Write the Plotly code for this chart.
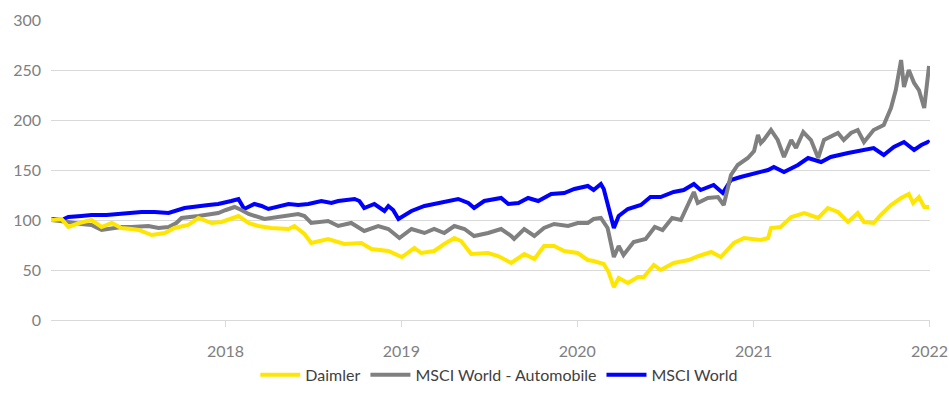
import plotly.graph_objects as go

# ---- Data ----
daimler_dates = [
    "2017-01-04", "2017-01-15", "2017-01-26", "2017-02-09", "2017-03-04", "2017-03-29",
    "2017-04-19", "2017-05-10", "2017-05-30", "2017-06-20", "2017-07-05", "2017-08-01",
    "2017-08-28", "2017-09-17", "2017-10-16", "2017-11-06", "2017-12-03", "2017-12-24",
    "2018-01-07", "2018-01-28", "2018-02-18", "2018-03-10", "2018-04-06", "2018-05-12",
    "2018-05-24", "2018-06-14", "2018-06-28", "2018-08-02", "2018-09-05", "2018-10-10",
    "2018-10-31", "2018-12-05", "2019-01-02", "2019-01-28", "2019-02-11", "2019-03-10",
    "2019-03-31", "2019-04-21", "2019-05-05", "2019-05-26", "2019-06-30", "2019-07-21",
    "2019-08-17", "2019-09-13", "2019-10-04", "2019-10-24", "2019-11-14", "2019-12-05",
    "2020-01-02", "2020-01-23", "2020-02-04", "2020-02-25", "2020-03-06", "2020-03-17",
    "2020-03-27", "2020-04-15", "2020-05-06", "2020-05-18", "2020-06-08", "2020-06-22",
    "2020-07-19", "2020-08-19", "2020-09-09", "2020-10-05", "2020-10-25", "2020-11-21",
    "2020-12-12", "2021-01-02", "2021-01-16", "2021-01-31", "2021-02-06", "2021-02-26",
    "2021-03-20", "2021-04-16", "2021-05-15", "2021-06-04", "2021-06-25", "2021-07-16",
    "2021-08-05", "2021-08-18", "2021-09-07", "2021-09-22", "2021-10-13", "2021-11-03",
    "2021-11-19", "2021-11-28", "2021-12-10", "2021-12-21", "2021-12-31",
]
daimler_values = [
    100, 101, 101, 93, 97, 100,
    93, 97, 92, 91, 90, 85,
    87, 92, 95, 102, 97, 98,
    100, 104, 97, 94, 92, 91,
    94, 86, 77, 81, 76, 77,
    71, 69, 63, 72, 67, 69,
    76, 82, 79, 66, 67, 64,
    57, 66, 61, 74, 74, 69,
    67, 60, 59, 56, 48, 33,
    42, 37, 43, 43, 55, 50,
    57, 60, 64, 68, 63, 77,
    82, 81, 80, 82, 92, 93,
    103, 107, 102, 112, 108, 98,
    107, 98, 97, 105, 115, 122,
    126, 117, 123, 113, 113,
]

auto_dates = [
    "2017-01-04", "2017-01-26", "2017-02-09", "2017-03-08", "2017-03-29", "2017-04-19",
    "2017-05-10", "2017-05-30", "2017-06-20", "2017-07-25", "2017-08-15", "2017-09-05",
    "2017-09-21", "2017-10-02", "2017-11-06", "2017-12-03", "2017-12-17", "2018-01-02",
    "2018-01-13", "2018-01-20", "2018-02-03", "2018-02-18", "2018-03-23", "2018-04-27",
    "2018-06-01", "2018-06-14", "2018-06-28", "2018-08-02", "2018-08-23", "2018-09-19",
    "2018-10-16", "2018-11-14", "2018-12-05", "2018-12-28", "2019-01-22", "2019-02-18",
    "2019-03-10", "2019-03-31", "2019-04-21", "2019-05-12", "2019-06-01", "2019-06-30",
    "2019-07-27", "2019-08-17", "2019-08-23", "2019-09-13", "2019-10-04", "2019-10-24",
    "2019-11-14", "2019-12-13", "2020-01-02", "2020-01-23", "2020-02-04", "2020-02-19",
    "2020-03-04", "2020-03-17", "2020-03-27", "2020-04-06", "2020-04-27", "2020-05-22",
    "2020-06-10", "2020-06-26", "2020-07-16", "2020-08-03", "2020-08-17", "2020-08-30",
    "2020-09-07", "2020-09-28", "2020-10-19", "2020-10-31", "2020-11-15", "2020-11-29",
    "2020-12-20", "2021-01-02", "2021-01-10", "2021-01-16", "2021-01-22", "2021-02-06",
    "2021-02-20", "2021-03-05", "2021-03-20", "2021-03-30", "2021-04-14", "2021-04-30",
    "2021-05-15", "2021-05-27", "2021-06-25", "2021-07-07", "2021-07-22", "2021-08-05",
    "2021-08-18", "2021-09-07", "2021-09-28", "2021-10-13", "2021-10-23", "2021-11-03",
    "2021-11-09", "2021-11-19", "2021-11-30", "2021-12-10", "2021-12-21", "2021-12-29",
    "2021-12-31",
]
auto_values = [
    100, 99, 98, 96, 95, 90,
    92, 93, 93, 94, 92, 93,
    97, 102, 104, 106, 107, 110,
    112, 113, 110, 106, 101, 104,
    106, 104, 97, 99, 94, 97,
    89, 94, 91, 82, 91, 87,
    91, 87, 94, 91, 84, 87,
    91, 84, 81, 91, 84, 92,
    96, 94, 97, 97, 101, 102,
    92, 63, 74, 65, 78, 81,
    93, 90, 102, 100, 115, 128,
    117, 122, 123, 115, 145, 155,
    162, 169, 185, 177, 180, 190,
    180, 163, 180, 172, 188, 180,
    162, 180, 187, 180, 187, 190,
    178, 190, 195, 212, 230, 260,
    233, 250, 237, 230, 212, 240,
    254,
]

world_dates = [
    "2017-01-04", "2017-01-09", "2017-01-26", "2017-02-09", "2017-03-08", "2017-03-29",
    "2017-04-29", "2017-06-06", "2017-07-11", "2017-08-07", "2017-09-05", "2017-10-08",
    "2017-11-02", "2017-11-27", "2017-12-17", "2017-12-30", "2018-01-13", "2018-01-28",
    "2018-02-09", "2018-03-02", "2018-03-17", "2018-03-31", "2018-04-27", "2018-05-12",
    "2018-06-01", "2018-06-22", "2018-07-19", "2018-08-09", "2018-08-23", "2018-09-26",
    "2018-10-06", "2018-10-16", "2018-11-06", "2018-11-27", "2018-12-05", "2018-12-15",
    "2018-12-26", "2019-01-15", "2019-01-22", "2019-02-18", "2019-03-25", "2019-04-29",
    "2019-05-20", "2019-06-01", "2019-06-22", "2019-07-27", "2019-08-11", "2019-09-01",
    "2019-09-21", "2019-10-12", "2019-11-08", "2019-12-05", "2019-12-26", "2020-01-23",
    "2020-02-04", "2020-02-19", "2020-02-25", "2020-03-06", "2020-03-17", "2020-03-27",
    "2020-04-15", "2020-05-12", "2020-06-01", "2020-06-22", "2020-07-19", "2020-08-09",
    "2020-08-30", "2020-09-13", "2020-10-10", "2020-10-29", "2020-11-15", "2020-12-05",
    "2021-01-02", "2021-01-31", "2021-02-12", "2021-03-05", "2021-04-03", "2021-04-24",
    "2021-05-21", "2021-06-10", "2021-07-16", "2021-08-18", "2021-09-07", "2021-09-28",
    "2021-10-19", "2021-11-09", "2021-11-30", "2021-12-15", "2021-12-29", "2021-12-31",
]
world_values = [
    100, 101, 100, 103, 104, 105,
    105, 107, 108, 108, 107, 112,
    113, 115, 116, 117, 119, 121,
    111, 116, 114, 111, 114, 116,
    115, 116, 119, 117, 119, 121,
    119, 112, 116, 109, 114, 110,
    101, 107, 109, 114, 117, 121,
    117, 112, 119, 122, 116, 117,
    122, 119, 126, 127, 131, 134,
    130, 136, 131, 112, 92, 104,
    111, 115, 123, 123, 128, 130,
    136, 130, 135, 127, 140, 143,
    146, 150, 153, 148, 155, 162,
    158, 163, 167, 170, 172, 165,
    173, 178, 170, 175, 178, 177,
]

series_names = ["Daimler", "MSCI World - Automobile", "MSCI World"]
series_colors = ["#FFE600", "#808080", "#0000FF"]

x_tick_vals = ["2018-01-01", "2019-01-01", "2020-01-01", "2021-01-01", "2022-01-01"]
x_tick_text = ["2018", "2019", "2020", "2021", "2022"]
y_tick_vals = [0, 50, 100, 150, 200, 250, 300]

# ---- Figure ----
font_family = "Lato, 'Open Sans', sans-serif"
text_color = "#808080"
grid_color = "#D9D9D9"

fig = go.Figure()
# draw order: blue (bottom), gray, yellow (top); legend reversed to read Daimler first
for dates, vals, name, color in [
    (world_dates, world_values, series_names[2], series_colors[2]),
    (auto_dates, auto_values, series_names[1], series_colors[1]),
    (daimler_dates, daimler_values, series_names[0], series_colors[0]),
]:
    fig.add_trace(go.Scatter(
        x=dates, y=vals, name=name, mode="lines",
        line=dict(color=color, width=4),
        hoverinfo="skip",
    ))

fig.update_layout(
    width=949, height=410,
    margin=dict(l=51, r=19, t=20, b=90, autoexpand=False),
    paper_bgcolor="white", plot_bgcolor="white",
    font=dict(family=font_family, size=16, color=text_color),
    showlegend=True,
    legend=dict(
        orientation="h", x=0.51, xanchor="center", y=-0.183, yanchor="middle",
        traceorder="reversed", itemwidth=40, font=dict(size=16, color="#404040"),
        itemclick=False, itemdoubleclick=False,
    ),
)
fig.update_xaxes(
    type="date",
    range=["2017-01-04", "2022-01-02"],
    tickvals=x_tick_vals, ticktext=x_tick_text,
    showgrid=False, zeroline=False, automargin=False,
    showline=True, linecolor=grid_color, linewidth=1,
    ticks="outside", ticklen=6, tickcolor=grid_color,
    ticklabelstandoff=11,
    tickfont=dict(size=16, color=text_color),
)
fig.update_yaxes(
    range=[0, 300], tickvals=y_tick_vals, automargin=False,
    showgrid=True, gridcolor=grid_color, gridwidth=1,
    zeroline=False, showline=False, ticks="",
    ticklabelstandoff=9,
    tickfont=dict(size=16, color=text_color),
)

fig.write_html(
    "out.html",
    config={"displayModeBar": False},
    post_script="document.body.style.margin='0';document.body.style.overflow='hidden';",
)
